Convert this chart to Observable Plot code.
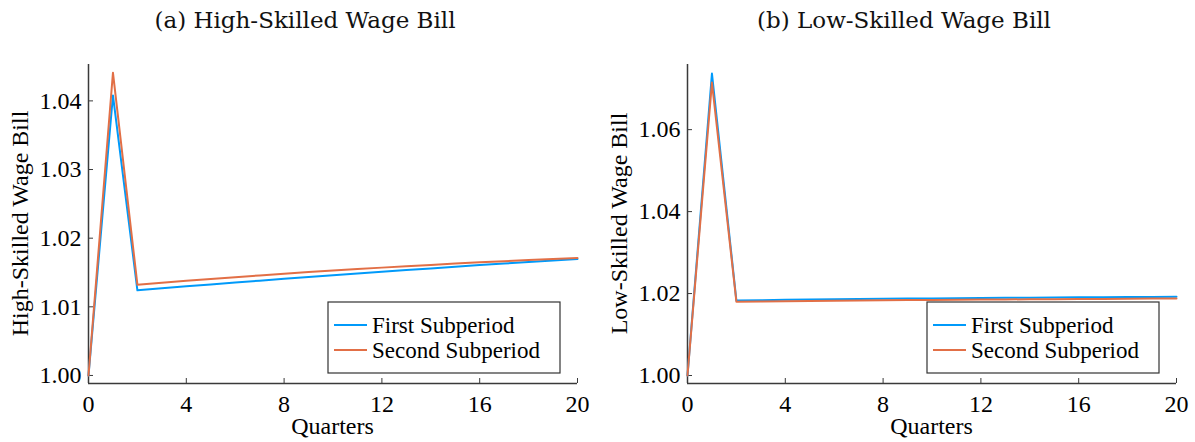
<!DOCTYPE html>
<html>
<head>
<meta charset="utf-8">
<script src="https://cdn.jsdelivr.net/npm/d3@7"></script>
<script src="https://cdn.jsdelivr.net/npm/@observablehq/plot@0.6"></script>
<style>
  body { margin: 0; background: #fff; }
  #wrap { display: flex; width: 1195px; height: 442px; }
  #wrap svg { display: block; font-family: "Liberation Serif", "Times New Roman", serif !important; }
  #wrap svg text { font-family: "Liberation Serif", "Times New Roman", serif !important; }
  #wrap svg text.ttl { font-family: "DejaVu Serif", serif !important; }
</style>
</head>
<body>
<div id="wrap"></div>
<script>
// ---- data ----
const quarters = [0,1,2,3,4,5,6,7,8,9,10,11,12,13,14,15,16,17,18,19,20];
const seriesNames = ["First Subperiod", "Second Subperiod"];
const seriesColors = ["#009AFA", "#E26F46"];

const highFirst  = [1.0000, 1.0408, 1.01240, 1.01269, 1.01298, 1.01326, 1.01354, 1.01381, 1.01408, 1.01434,
                    1.01460, 1.01486, 1.01511, 1.01536, 1.01560, 1.01584, 1.01608, 1.01631, 1.01654, 1.01676, 1.01698];
const highSecond = [1.0000, 1.0441, 1.01322, 1.01351, 1.01379, 1.01406, 1.01432, 1.01457, 1.01482, 1.01506,
                    1.01528, 1.01550, 1.01571, 1.01592, 1.01611, 1.01630, 1.01648, 1.01665, 1.01681, 1.01696, 1.01710];
const lowFirst   = [1.0000, 1.0737, 1.01830, 1.01838, 1.01846, 1.01853, 1.01860, 1.01866, 1.01872, 1.01877,
                    1.01882, 1.01887, 1.01891, 1.01895, 1.01899, 1.01903, 1.01907, 1.01910, 1.01914, 1.01917, 1.01920];
const lowSecond  = [1.0000, 1.0715, 1.01800, 1.01807, 1.01813, 1.01819, 1.01825, 1.01830, 1.01835, 1.01840,
                    1.01844, 1.01848, 1.01852, 1.01856, 1.01860, 1.01864, 1.01867, 1.01870, 1.01874, 1.01877, 1.01880];

const xTicks = [0, 4, 8, 12, 16, 20];
const xDomain = [0, 20];
const highTicks = [1.00, 1.01, 1.02, 1.03, 1.04];
const lowTicks = [1.00, 1.02, 1.04, 1.06];
const highDomain = [0.99883, 1.0453];
const lowDomain = [0.99805, 1.0759];
const titles = ["(a) High-Skilled Wage Bill", "(b) Low-Skilled Wage Bill"];
const yLabels = ["High-Skilled Wage Bill", "Low-Skilled Wage Bill"];
const xLabel = "Quarters";

const AXIS = "#3a3a3a";

function panel({width, ml, mr, title, titleX, ylabel, ylabelX, domain, ticks, first, second, legendX}) {
  const data = [];
  quarters.forEach((q, i) => data.push({q, v: first[i], s: seriesNames[0]}));
  quarters.forEach((q, i) => data.push({q, v: second[i], s: seriesNames[1]}));
  const svg = Plot.plot({
    width, height: 442,
    marginTop: 64, marginBottom: 59, marginLeft: ml, marginRight: mr,
    style: {fontSize: "24px", color: "#000", background: "#fff", overflow: "visible"},
    x: {domain: xDomain},
    y: {domain},
    color: {domain: seriesNames, range: seriesColors},
    marks: [
      Plot.axisX({ticks: xTicks, tickSize: -5, tickPadding: 16, stroke: AXIS, label: null, fontSize: 24}),
      Plot.axisY({ticks, tickFormat: d3.format(".2f"), tickSize: -5, tickPadding: 12, stroke: AXIS, label: null, fontSize: 24}),
      Plot.ruleX([xDomain[0]], {stroke: AXIS, strokeWidth: 1.5}),
      Plot.ruleY([domain[0]], {stroke: AXIS, strokeWidth: 1.5}),
      Plot.line(data, {x: "q", y: "v", z: "s", stroke: "s", strokeWidth: 2})
    ]
  });
  const s = d3.select(svg);
  s.append("text").attr("class", "ttl").attr("x", titleX).attr("y", 28).attr("text-anchor", "middle")
    .style("font-size", "23px").attr("fill", "#111").text(title);
  s.append("text").attr("transform", `translate(${ylabelX},${(64 + 383) / 2}) rotate(-90)`)
    .attr("text-anchor", "middle").attr("fill", "#000").style("font-size", "24px").text(ylabel);
  s.append("text").attr("x", (ml + width - mr) / 2).attr("y", 434).attr("text-anchor", "middle")
    .attr("fill", "#000").style("font-size", "24px").text(xLabel);
  const g = s.append("g");
  g.append("rect").attr("x", legendX).attr("y", 302).attr("width", 232).attr("height", 71)
    .attr("fill", "#fff").attr("stroke", "#333").attr("stroke-width", 1.2);
  seriesNames.forEach((name, i) => {
    const y = 325 + i * 25;
    g.append("line").attr("x1", legendX + 6).attr("x2", legendX + 39).attr("y1", y).attr("y2", y)
      .attr("stroke", seriesColors[i]).attr("stroke-width", 2);
    g.append("text").attr("x", legendX + 44).attr("y", y + 8).attr("text-anchor", "start").attr("fill", "#000")
      .style("font-size", "23px").text(name);
  });
  return svg;
}

const wrap = document.getElementById("wrap");
wrap.appendChild(panel({width: 597, ml: 88, mr: 20, title: titles[0], titleX: 305, ylabel: yLabels[0], ylabelX: 28,
  domain: highDomain, ticks: highTicks, first: highFirst, second: highSecond, legendX: 328}));
wrap.appendChild(panel({width: 598, ml: 90, mr: 19, title: titles[1], titleX: 307, ylabel: yLabels[1], ylabelX: 30,
  domain: lowDomain, ticks: lowTicks, first: lowFirst, second: lowSecond, legendX: 330}));
</script>
</body>
</html>
